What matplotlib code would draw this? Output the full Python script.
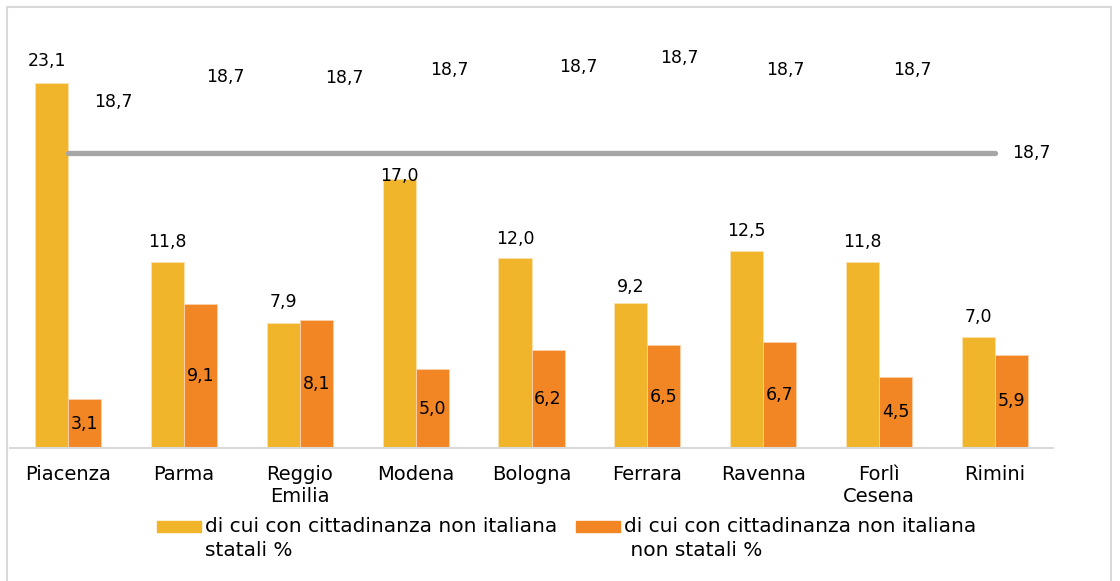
import matplotlib
matplotlib.use("Agg")
import matplotlib.pyplot as plt
from matplotlib.patches import Rectangle
import numpy as np

# provinces and shares of pupils with non-Italian citizenship
province = ["Piacenza", "Parma", "Reggio\nEmilia", "Modena", "Bologna",
            "Ferrara", "Ravenna", "Forlì\nCesena", "Rimini"]
statali = [23.1, 11.8, 7.9, 17.0, 12.0, 9.2, 12.5, 11.8, 7.0]
non_statali = [3.1, 9.1, 8.1, 5.0, 6.2, 6.5, 6.7, 4.5, 5.9]
media = [18.7] * len(province)

lbl_statali = ["di cui con cittadinanza non italiana", "statali %"]
lbl_non_statali = ["di cui con cittadinanza non italiana", " non statali %"]

YELLOW = "#F0B52B"
ORANGE = "#F28524"
GREY = "#A6A6A6"

plt.rcParams['font.family'] = ['DejaVu Sans']

W, H = 1120, 581
fig = plt.figure(figsize=(W / 100, H / 100), dpi=100)
# outer frame of the chart area
fig.patches.append(Rectangle((7 / W, -0.1), 1104 / W, 1.1 - 7 / H,
                             transform=fig.transFigure, fill=False,
                             edgecolor="#D9D9D9", linewidth=1.5))

ax = fig.add_axes([10 / W, 133 / H, 1043 / W, 395 / H])
x = np.arange(len(province))
w = 0.285

ax.bar(x - w / 2, statali, w, color=YELLOW, edgecolor="#FBE3B0", linewidth=0.6)
ax.bar(x + w / 2, non_statali, w, color=ORANGE, edgecolor="#FAD2B0", linewidth=0.6)

ax.plot(x, media, color=GREY, linewidth=3.8, solid_capstyle="round", zorder=3)

def fmt(v):
    return f"{v:.1f}".replace(".", ",")

# yellow bar labels sit above the bars (Modena's one was pulled down)
up = [22, 20, 21, 3, 19, 16, 19, 20, 20]
for i, v in enumerate(statali):
    ax.annotate(fmt(v), (x[i] - w / 2, v), xytext=(-4 if i == 0 else 0, up[i]),
                textcoords="offset pixels", ha="center", va="center", fontsize=12.5)

for i, v in enumerate(non_statali):
    ax.text(x[i] + w / 2, v / 2, fmt(v), ha="center", va="center", fontsize=12.5)

# labels of the average line, scattered above it
nudge = [(45, 51), (42, 76), (45, 75), (34, 83), (47, 86),
         (32, 95), (22, 83), (33, 83), (36, 0)]
for i, v in enumerate(media):
    dx, dy = nudge[i]
    ax.annotate(fmt(v), (x[i], v), xytext=(dx, dy), textcoords="offset pixels",
                ha="center", va="center", fontsize=12.5)

ax.set_xlim(-0.5, len(province) - 0.5)
ax.set_ylim(0, 25)
ax.set_xticks(x)
ax.set_xticklabels(province, fontsize=14, linespacing=1.25)
ax.tick_params(axis="x", length=0, pad=12)
ax.set_yticks([])
for s in ["top", "right", "left"]:
    ax.spines[s].set_visible(False)
ax.spines["bottom"].set_color("#D9D9D9")
ax.spines["bottom"].set_linewidth(1.5)

# legend below the axis, key box level with the first text line
for px, col, lines in [(157, YELLOW, lbl_statali), (576, ORANGE, lbl_non_statali)]:
    fig.patches.append(Rectangle((px / W, 1 - 532 / H), 44 / W, 11 / H,
                                 transform=fig.transFigure, color=col))
    for k, t in enumerate(lines):
        fig.text((px + 48) / W, 1 - (527 + 23 * k) / H, t, fontsize=14.5,
                 ha="left", va="center")

fig.savefig("out.png", dpi=100)
